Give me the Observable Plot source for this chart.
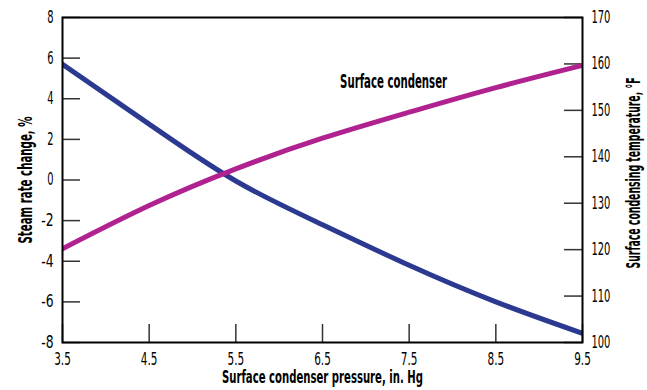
<!DOCTYPE html>
<html><head><meta charset="utf-8">
<script src="https://cdn.jsdelivr.net/npm/d3@7"></script>
<script src="https://cdn.jsdelivr.net/npm/@observablehq/plot@0.6"></script>
<style>
body{margin:0;background:#fff}
#chart svg, #chart svg text{font-family:"DejaVu Sans Condensed","DejaVu Sans",sans-serif;font-stretch:condensed}
</style>
</head><body><div id="chart"></div>
<script>
// Data
const pressure = [3.5, 4.5, 5.5, 6.5, 7.5, 8.5, 9.5];
const steamRateChange = [5.7, 2.75, -0.05, -2.2, -4.2, -6.0, -7.55];
const condensingTemp = [120.2, 129.5, 137.4, 144.0, 149.6, 154.9, 159.7];
const xTicks = [3.5, 4.5, 5.5, 6.5, 7.5, 8.5, 9.5];
const leftTicks = [-8, -6, -4, -2, 0, 2, 4, 6, 8];
const rightTicks = [100, 110, 120, 130, 140, 150, 160, 170];
const seriesLabel = ["Surface condenser"];
const seriesLabelX = [7.32];
const seriesLabelY = [4.85];
const xTitle = ["Surface condenser pressure, in. Hg"];
const yLeftTitle = ["Steam rate change, %"];
const yRightTitle = ["Surface condensing temperature, °F"];

const leftMin = -8, leftMax = 8, tempMin = 100, tempMax = 170;
const toLeft = t => leftMin + (t - tempMin) / (tempMax - tempMin) * (leftMax - leftMin);
const fromLeft = v => tempMin + (v - leftMin) / (leftMax - leftMin) * (tempMax - tempMin);

const W = 647, H = 390, mL = 62, mR = 65, mT = 17, mB = 48;
const innerW = W - mL - mR, innerH = H - mT - mB, tickLen = 18;
const FONT = '"DejaVu Sans Condensed","DejaVu Sans",sans-serif';

const rows = pressure.map((p, i) => ({p, s: steamRateChange[i], t: condensingTemp[i]}));
const labelRows = seriesLabel.map((txt, i) => ({txt, x: seriesLabelX[i], y: seriesLabelY[i]}));

const chart = Plot.plot({
  width: W, height: H,
  marginLeft: mL, marginRight: mR, marginTop: mT, marginBottom: mB,
  x: {domain: [3.5, 9.5]},
  y: {domain: [leftMin, leftMax]},
  style: {fontFamily: FONT, fontSize: "17px", color: "#000", background: "#fff"},
  marks: [
    Plot.ruleY(leftTicks, {insetRight: innerW - tickLen, stroke: "#333", strokeWidth: 1.5}),
    Plot.ruleY(rightTicks.map(toLeft), {insetLeft: innerW - tickLen, stroke: "#333", strokeWidth: 1.5}),
    Plot.ruleX(xTicks, {insetTop: innerH - tickLen, stroke: "#333", strokeWidth: 1.5}),
    Plot.axisY({anchor: "left", ticks: leftTicks, tickFormat: d => String(d), tickSize: 0, tickPadding: 9, label: null, fontSize: 17}),
    Plot.axisY({anchor: "right", ticks: rightTicks.map(toLeft), tickFormat: v => String(Math.round(fromLeft(v))), tickSize: 0, tickPadding: 9, label: null, fontSize: 17}),
    Plot.axisX({ticks: xTicks, tickFormat: d => d.toFixed(1), tickSize: 0, tickPadding: 10, label: null, fontSize: 17}),
    Plot.line(rows, {x: "p", y: "s", stroke: "#2b3990", strokeWidth: 5, curve: "natural", clip: "frame"}),
    Plot.line(rows, {x: "p", y: d => toLeft(d.t), stroke: "#b0228f", strokeWidth: 5, curve: "natural", clip: "frame"}),
    Plot.frame({stroke: "#000", strokeWidth: 2}),
    Plot.text(labelRows, {x: "x", y: "y", text: "txt", fontSize: 19, fontWeight: "bold"}),
    Plot.text(yLeftTitle, {frameAnchor: "left", dx: -37, rotate: -90, textAnchor: "middle", lineAnchor: "middle", fontSize: 19, fontWeight: "bold"}),
    Plot.text(yRightTitle, {frameAnchor: "right", dx: 51, dy: -7, rotate: -90, textAnchor: "middle", lineAnchor: "middle", fontSize: 19, fontWeight: "bold"}),
    Plot.text(xTitle, {frameAnchor: "bottom", dy: 35, textAnchor: "middle", lineAnchor: "middle", fontSize: 18, fontWeight: "bold"})
  ]
});

// Narrow the glyphs to mimic the condensed face of the original
const titleWidths = new Map([
  [xTitle[0], 201], [yLeftTitle[0], 127], [yRightTitle[0], 191], [seriesLabel[0], 107]
]);
const charWidth = c => (c === "." ? 4 : c === "-" ? 6 : 6.3);
d3.select(chart).selectAll("text").each(function () {
  const el = d3.select(this);
  const s = this.textContent;
  if (titleWidths.has(s)) {
    el.attr("textLength", titleWidths.get(s)).attr("lengthAdjust", "spacingAndGlyphs");
  } else if (/^[-0-9.]+$/.test(s)) {
    const w = Array.from(s).reduce((a, c) => a + charWidth(c), 0);
    el.attr("textLength", w).attr("lengthAdjust", "spacingAndGlyphs");
  }
});
document.getElementById("chart").appendChild(chart);
</script>
</body></html>
